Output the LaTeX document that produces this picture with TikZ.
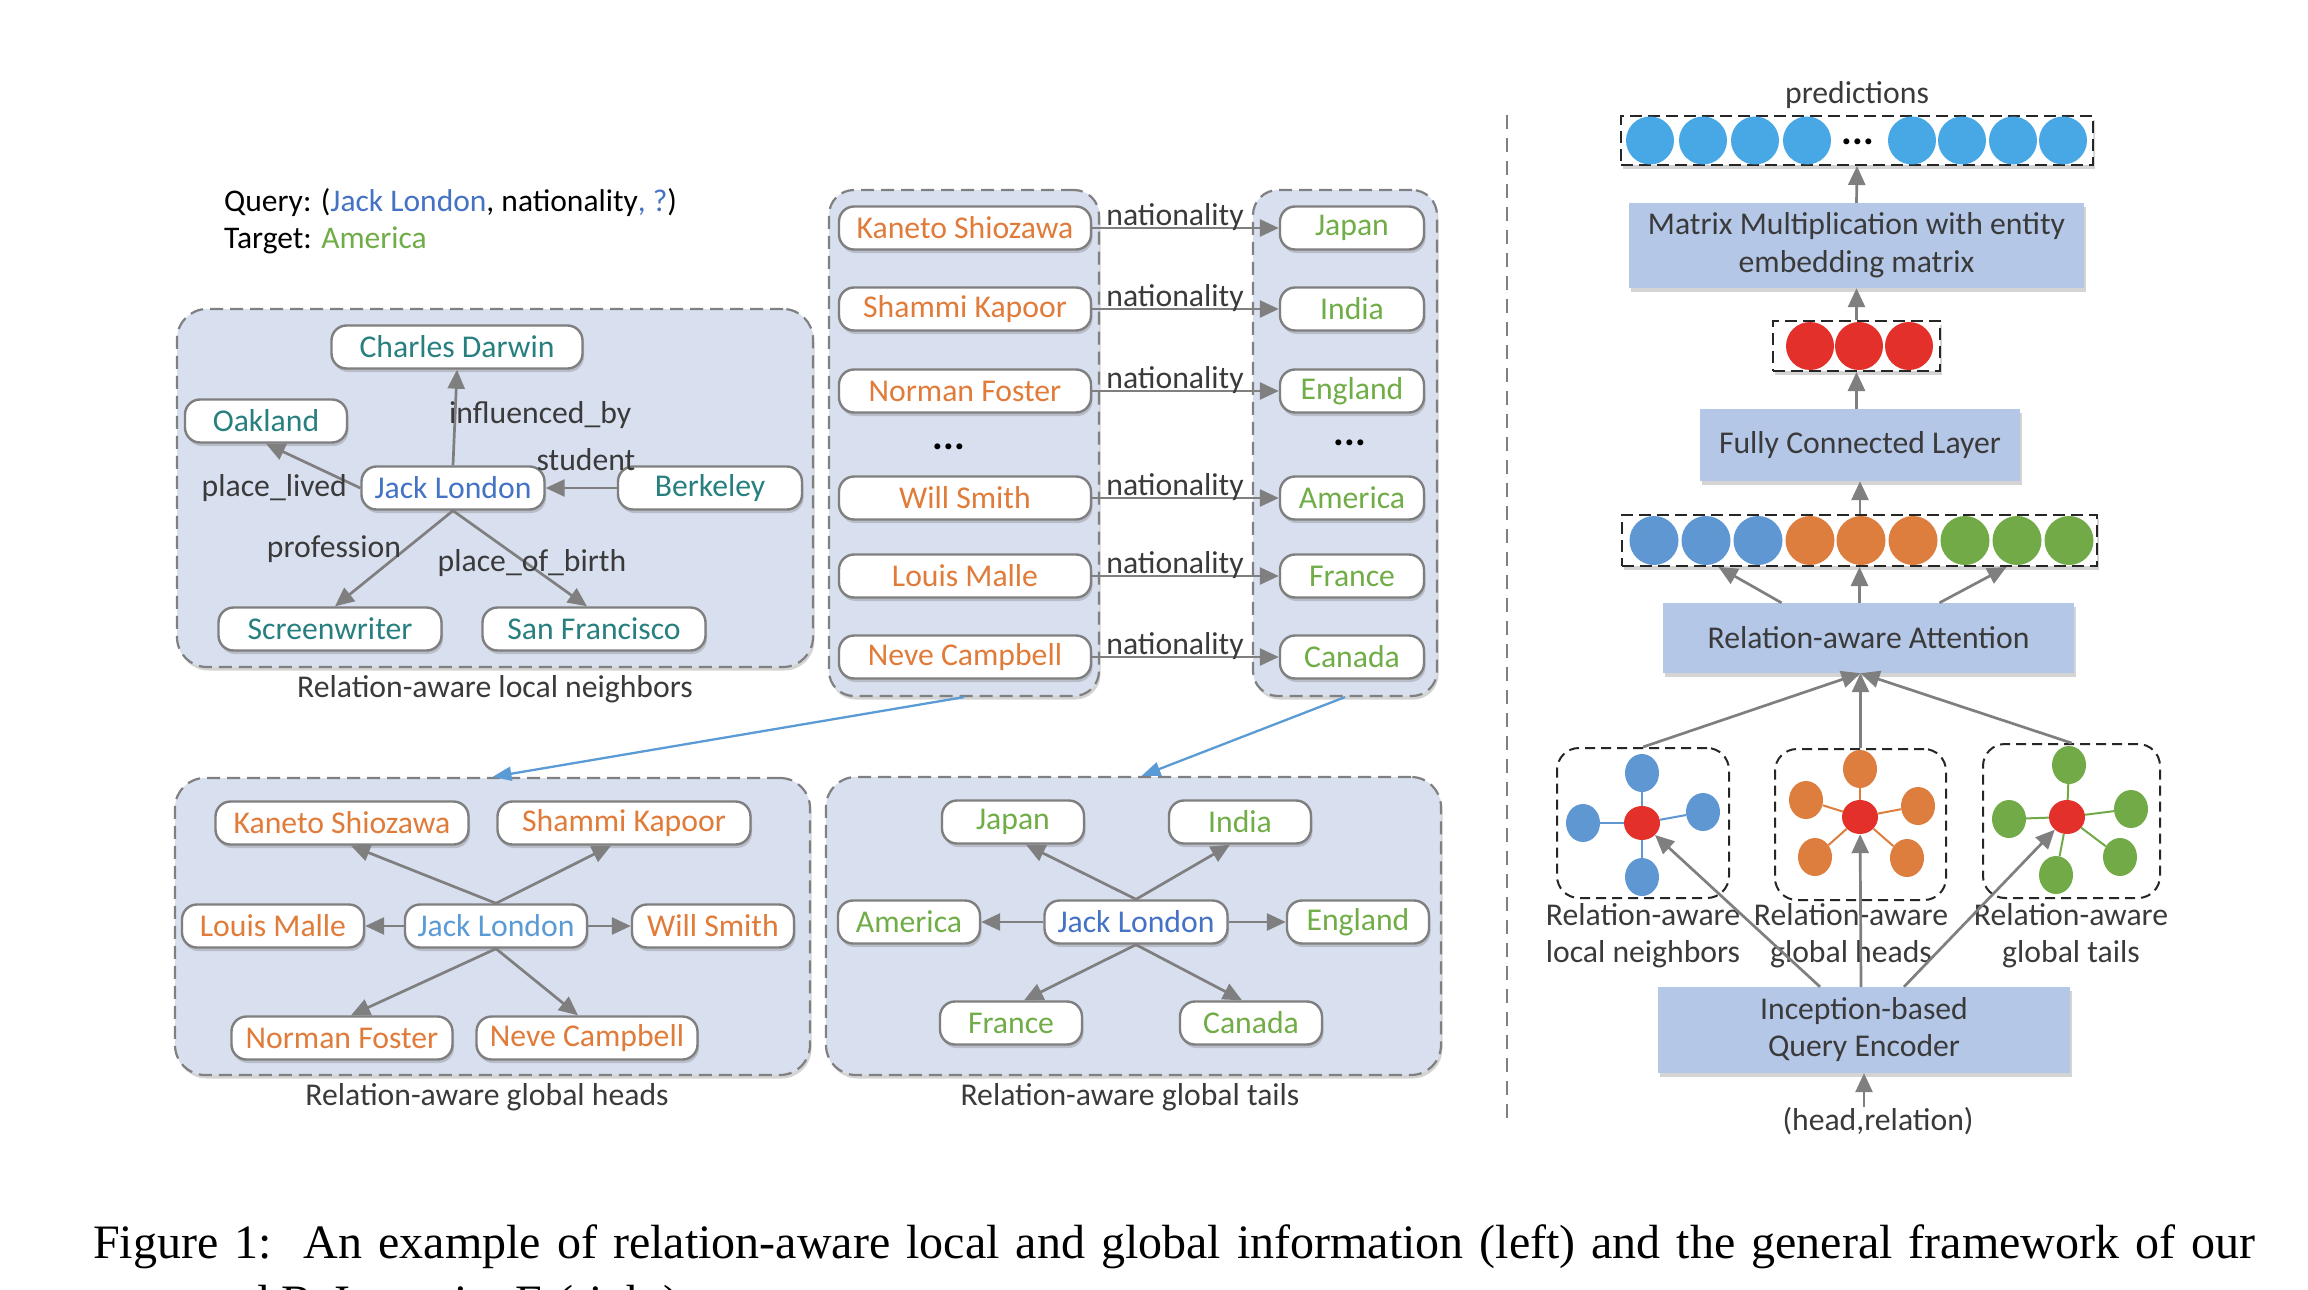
\documentclass[tikz,border=0pt]{standalone}
\usepackage{fontspec}
\setmainfont{Carlito}
\newfontfamily\capfont{Liberation Serif}
\usetikzlibrary{arrows.meta,shadows,calc,shapes.geometric}

\definecolor{edgegray}{HTML}{7F7F7F}
\definecolor{dashgray}{HTML}{808080}
\definecolor{contfill}{HTML}{D8DFEF}
\definecolor{blkfill}{HTML}{B4C7E7}
\definecolor{txtdark}{HTML}{3A3A3A}
\definecolor{entteal}{HTML}{287F80}
\definecolor{entorange}{HTML}{E07B39}
\definecolor{entgreen}{HTML}{70AD47}
\definecolor{jlblue}{HTML}{4472C4}
\definecolor{jlblue2}{HTML}{5B9BD5}
\definecolor{arrblue}{HTML}{5B9BD5}
\definecolor{cblue}{HTML}{5E97D2}
\definecolor{corange}{HTML}{DE7E3E}
\definecolor{cgreen}{HTML}{72AA48}
\definecolor{cred}{HTML}{E3302A}
\definecolor{pblue}{HTML}{48A8E6}

\tikzset{
  shd/.style={drop shadow={shadow xshift=1.5pt, shadow yshift=-3.5pt, opacity=0.28, fill=black!60}},
  ent/.style={draw=edgegray, line width=2.4pt, rounded corners=15pt, fill=white,
              minimum height=43pt, inner sep=0pt, shd},
  cont/.style={draw=dashgray, line width=2.2pt, dash pattern=on 13pt off 7pt,
               fill=contfill, rounded corners=30pt, inner sep=0pt, shd},
  arr/.style={draw=edgegray, line width=2.7pt, -{Triangle[length=19pt,width=17pt]}},
  barr/.style={draw=arrblue, line width=2.3pt, -{Triangle[length=19pt,width=14pt]}},
  lab/.style={text=txtdark, inner sep=0pt},
  blk/.style={fill=blkfill, inner sep=0pt, text=txtdark, align=center, shd},
  rowbox/.style={draw=black!85, line width=2pt, dash pattern=on 12pt off 6pt,
                 fill=white, inner sep=0pt, shd},
  iconbox/.style={draw=black!85, line width=2pt, dash pattern=on 10pt off 6pt,
                  rounded corners=22pt, fill=white, inner sep=0pt},
  ball/.style={circle, inner sep=0pt, minimum size=48pt},
  sball/.style={ellipse, inner sep=0pt, minimum width=34pt, minimum height=38pt},
  rball/.style={ellipse, inner sep=0pt, minimum width=36pt, minimum height=34pt, fill=cred},
  dots/.style={inner sep=0pt, font=\fontsize{40}{40}\selectfont\bfseries},
}

\begin{document}
\begin{tikzpicture}[x=1pt,y=-1pt,font=\fontsize{31.7}{38}\selectfont]
\useasboundingbox (0,0) rectangle (2308,1290);
\clip (0,0) rectangle (2308,1290);
\fill[white] (0,0) rectangle (2308,1290);

% ---------------- query ----------------
\node[anchor=west, inner sep=0pt, font=\fontsize{31.5}{38}\selectfont] (query) at (224,203)
  {Query: (\textcolor{jlblue}{Jack London}, nationality\textcolor{jlblue}{, ?})};
\node[anchor=west, inner sep=0pt, font=\fontsize{31.5}{38}\selectfont] (target) at (224,240)
  {Target: \textcolor{entgreen}{America}};

% ---------------- local neighbours ----------------
\node[cont, minimum width=636pt, minimum height=358pt] (boxL) at (495,488) {};
\node[lab] (boxLlab) at (495,689) {Relation-aware local neighbors};

\node[ent, minimum width=251pt, text=entteal] (ld) at (457,347) {Charles Darwin};
\node[ent, minimum width=162pt, text=entteal] (lo) at (266,421) {Oakland};
\node[ent, minimum width=183pt, text=jlblue] (lj) at (453,488) {Jack London};
\node[ent, minimum width=184pt, text=entteal] (lb) at (710,488) {Berkeley};
\node[ent, minimum width=223pt, text=entteal] (ls) at (330,629) {Screenwriter};
\node[ent, minimum width=223pt, text=entteal] (lf) at (594,629) {San Francisco};

\draw[arr] (lj.north) -- (ld.south);
\draw[arr] (lj.west) -- (lo.south);
\draw[arr] (lb.west) -- (lj.east);
\draw[arr] (lj.south) -- ($(ls.north)+(5,0)$);
\draw[arr] (lj.south) -- ($(lf.north)+(-7,0)$);

\node[lab, anchor=west] (linf) at (449,415) {influenced\_by};
\node[lab] (lstu) at (586,460) {student};
\node[lab, anchor=east] (lpl) at (347,488) {place\_lived};
\node[lab] (lpro) at (334,549) {profession};
\node[lab] (lpob) at (532,563) {place\_of\_birth};

% ---------------- columns ----------------
\node[cont, rounded corners=25pt, minimum width=270pt, minimum height=506pt] (colH) at (964,443) {};
\node[cont, rounded corners=25pt, minimum width=184pt, minimum height=506pt] (colT) at (1345,443) {};

\node[ent, minimum width=252pt, text=entorange] (h1) at (965,228) {Kaneto Shiozawa};
\node[ent, minimum width=252pt, text=entorange] (h2) at (965,309) {Shammi Kapoor};
\node[ent, minimum width=252pt, text=entorange] (h3) at (965,391) {Norman Foster};
\node[ent, minimum width=252pt, text=entorange] (h4) at (965,498) {Will Smith};
\node[ent, minimum width=252pt, text=entorange] (h5) at (965,576) {Louis Malle};
\node[ent, minimum width=252pt, text=entorange] (h6) at (965,657) {Neve Campbell};

\node[ent, minimum width=144pt, text=entgreen] (t1) at (1352,228) {Japan};
\node[ent, minimum width=144pt, text=entgreen] (t2) at (1352,309) {India};
\node[ent, minimum width=144pt, text=entgreen] (t3) at (1352,391) {England};
\node[ent, minimum width=144pt, text=entgreen] (t4) at (1352,498) {America};
\node[ent, minimum width=144pt, text=entgreen] (t5) at (1352,576) {France};
\node[ent, minimum width=144pt, text=entgreen] (t6) at (1352,657) {Canada};

\node[dots] (hdots) at (949,447) {...};
\node[dots] (tdots) at (1350,443) {...};

\foreach \i in {1,...,6}{
  \draw[arr] (h\i.east) -- (t\i.west);
  \node[lab, anchor=south west] (nat\i) at ($(h\i.east)+(14,3)$) {nationality};
}

% ---------------- global heads ----------------
\node[cont, minimum width=635pt, minimum height=297pt] (gH) at (492.5,926.5) {};
\node[lab] (gHlab) at (487,1097) {Relation-aware global heads};

\node[ent, minimum width=253pt, text=entorange] (gk) at (342,823) {Kaneto Shiozawa};
\node[ent, minimum width=253pt, text=entorange] (gs) at (624,823) {Shammi Kapoor};
\node[ent, minimum width=182pt, text=entorange] (gl) at (273,926) {Louis Malle};
\node[ent, minimum width=182pt, text=jlblue2] (gj) at (496,926) {Jack London};
\node[ent, minimum width=162pt, text=entorange] (gw) at (713,926) {Will Smith};
\node[ent, minimum width=221pt, text=entorange] (gn) at (342,1038) {Norman Foster};
\node[ent, minimum width=221pt, text=entorange] (gc) at (587,1038) {Neve Campbell};

\draw[arr] (gj.north) -- ($(gk.south)+(9,0)$);
\draw[arr] (gj.north) -- ($(gs.south)+(-13,0)$);
\draw[arr] (gj.west) -- (gl.east);
\draw[arr] (gj.east) -- (gw.west);
\draw[arr] (gj.south) -- ($(gn.north)+(9,0)$);
\draw[arr] (gj.south) -- ($(gc.north)+(-9,0)$);

% ---------------- global tails ----------------
\node[cont, minimum width=615pt, minimum height=298pt] (gT) at (1133.5,926) {};
\node[lab] (gTlab) at (1130,1097) {Relation-aware global tails};

\node[ent, minimum width=142pt, text=entgreen] (tj) at (1013,822) {Japan};
\node[ent, minimum width=142pt, text=entgreen] (ti) at (1240,822) {India};
\node[ent, minimum width=142pt, text=entgreen] (ta) at (909,922) {America};
\node[ent, minimum width=183pt, text=jlblue] (tl) at (1136,922) {Jack London};
\node[ent, minimum width=142pt, text=entgreen] (te) at (1358,922) {England};
\node[ent, minimum width=142pt, text=entgreen] (tf) at (1011,1023) {France};
\node[ent, minimum width=142pt, text=entgreen] (tc) at (1251,1023) {Canada};

\draw[arr] (tl.north) -- ($(tj.south)+(13,0)$);
\draw[arr] (tl.north) -- ($(ti.south)+(-10,0)$);
\draw[arr] (tl.west) -- (ta.east);
\draw[arr] (tl.east) -- (te.west);
\draw[arr] (tl.south) -- ($(tf.north)+(13,0)$);
\draw[arr] (tl.south) -- ($(tc.north)+(-9,0)$);

% ---------------- blue arrows ----------------
\draw[barr] (colH.south) -- (gH.north);
\draw[barr] (colT.south) -- ($(gT.north)+(8,0)$);

% ---------------- separator ----------------
\coordinate (sepT) at (1507,115);
\coordinate (sepB) at (1507,1122);
\draw[dashgray, line width=2.5pt, dash pattern=on 14pt off 9pt] (sepT) -- (sepB);

% ---------------- right framework ----------------
\node[lab] (predlab) at (1857,95) {predictions};
\node[rowbox, minimum width=472pt, minimum height=49pt] (prow) at (1857,140.5) {};
\foreach \x [count=\k] in {1650,1703,1755,1807,1912,1962,2013,2063}{
  \node[ball, fill=pblue] (p\k) at (\x,140.5) {};
}
\node[dots] (pdots) at (1858,142) {...};

\node[blk, minimum width=455pt, minimum height=85pt] (mat) at (1856.5,245.5)
  {Matrix Multiplication with entity\\embedding matrix};

\node[rowbox, minimum width=167pt, minimum height=50pt] (rrow) at (1856.5,346) {};
\foreach \x [count=\k] in {1810,1859,1909}{
  \node[ball, fill=cred] (r\k) at (\x,346) {};
}

\node[blk, minimum width=320pt, minimum height=72pt] (fc) at (1860,445) {Fully Connected Layer};

\node[rowbox, minimum width=475pt, minimum height=51pt] (crow) at (1859.5,540.5) {};
\foreach \x/\c [count=\k] in {1654/cblue,1706/cblue,1758/cblue,1810/corange,1861/corange,1913/corange,1965/cgreen,2017/cgreen,2069/cgreen}{
  \node[ball, minimum size=49pt, fill=\c] (c\k) at (\x,540.5) {};
}

\node[blk, minimum width=411pt, minimum height=70pt] (att) at (1868.5,638) {Relation-aware Attention};
\coordinate (attin) at ($(att.south)+(-8,0)$);

\draw[arr] (mat.north) -- (prow.south);
\draw[arr] (rrow.north) -- (rrow.north |- mat.south);
\draw[arr] (fc.north -| rrow.south) -- (rrow.south);
\draw[arr] (crow.north -| fc.south) -- (fc.south);
\draw[arr] ($(att.north)+(-87,0)$) -- ($(crow.south)+(-141,0)$);
\draw[arr] (att.north -| crow.south) -- (crow.south);
\draw[arr] ($(att.north)+(71,0)$) -- ($(crow.south)+(147,0)$);

% icons
\node[iconbox, minimum width=172pt, minimum height=150pt] (iL) at (1643,823) {};
\node[iconbox, minimum width=171pt, minimum height=151pt] (iH) at (1860.5,824.5) {};
\node[iconbox, minimum width=177pt, minimum height=154pt] (iT) at (2071.5,821) {};

% local icon
\node[rball] (Lc) at (1642,823) {};
\node[sball, fill=cblue] (L1) at (1642,773) {};
\node[sball, fill=cblue] (L2) at (1583,823) {};
\node[sball, fill=cblue] (L3) at (1703,812) {};
\node[sball, fill=cblue] (L4) at (1642,877) {};
\foreach \k in {1,...,4}{ \draw[cblue, line width=2pt] (Lc) -- (L\k); }

% heads icon
\node[rball] (Hc) at (1860,817) {};
\node[sball, fill=corange] (H1) at (1860,769) {};
\node[sball, fill=corange] (H2) at (1806,800) {};
\node[sball, fill=corange] (H3) at (1918,806) {};
\node[sball, fill=corange] (H4) at (1815,857) {};
\node[sball, fill=corange] (H5) at (1907,858) {};
\foreach \k in {1,...,5}{ \draw[corange, line width=2pt] (Hc) -- (H\k); }

% tails icon
\node[rball] (Tc) at (2067,817) {};
\node[sball, fill=cgreen] (T1) at (2069,765) {};
\node[sball, fill=cgreen] (T2) at (2009,819) {};
\node[sball, fill=cgreen] (T3) at (2131,809) {};
\node[sball, fill=cgreen] (T4) at (2056,875) {};
\node[sball, fill=cgreen] (T5) at (2120,857) {};
\foreach \k in {1,...,5}{ \draw[cgreen, line width=2pt] (Tc) -- (T\k); }

\node[lab, align=center, font=\fontsize{31.7}{37}\selectfont] (iLlab) at (1643,936) {Relation-aware\\local neighbors};
\node[lab, align=center, font=\fontsize{31.7}{37}\selectfont] (iHlab) at (1851,936) {Relation-aware\\global heads};
\node[lab, align=center, font=\fontsize{31.7}{37}\selectfont] (iTlab) at (2071,936) {Relation-aware\\global tails};

\draw[arr] (iL.north) -- (attin);
\draw[arr] (iH.north) -- (attin);
\draw[arr] (iT.north) -- (attin);

\node[blk, minimum width=412pt, minimum height=86pt, font=\fontsize{31.7}{37}\selectfont] (enc) at (1864,1030)
  {Inception-based\\Query Encoder};

\draw[arr] ($(enc.north)+(-44,0)$) -- (Lc);
\draw[arr] ($(enc.north)+(-3,0)$) -- (Hc);
\draw[arr] ($(enc.north)+(40,0)$) -- (Tc);

\node[lab] (hr) at (1878,1121) {(head,relation)};
\draw[arr] (enc.south |- hr.north) -- (enc.south);

% ---------------- caption ----------------
\node[anchor=base west, inner sep=0pt, font=\capfont\fontsize{48}{53}\selectfont] (cap1) at (93,1258)
  {\makebox[2162pt][s]{Figure 1:\ \ An example of relation-aware local and global information (left) and the general framework of our}};
\node[anchor=base west, inner sep=0pt, font=\capfont\fontsize{48}{53}\selectfont] (cap2) at (93,1318)
  {proposed ReInceptionE (right).};
\end{tikzpicture}
\end{document}
